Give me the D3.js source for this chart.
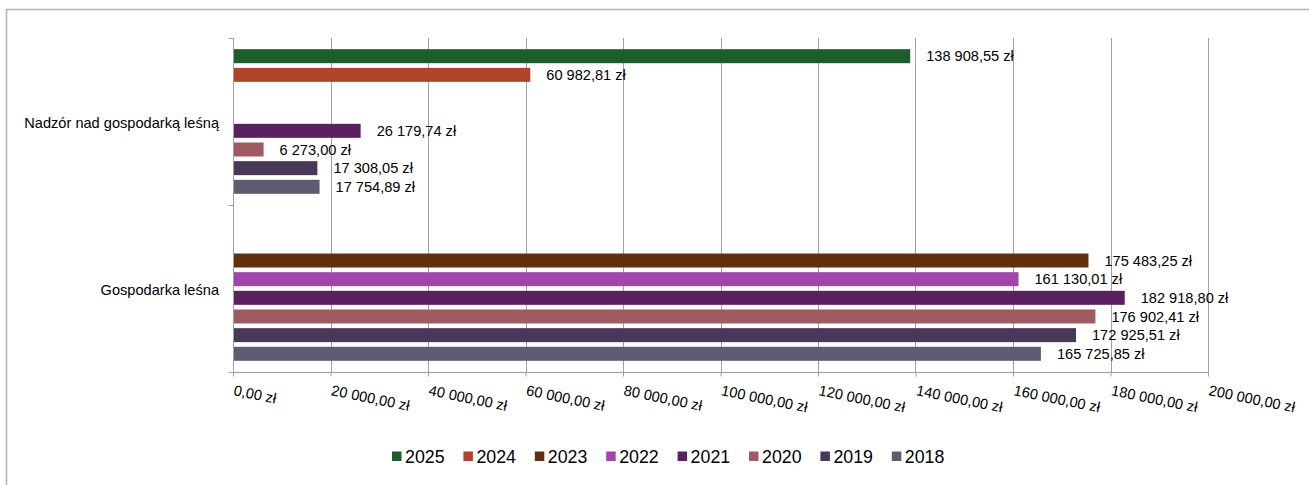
<!DOCTYPE html>
<html><head><meta charset="utf-8">
<script src="https://cdn.jsdelivr.net/npm/d3@7"></script>
<style>
html,body{margin:0;padding:0;background:#fff;}
svg{display:block;font-family:"Liberation Sans",Arial,sans-serif;}
</style></head>
<body><svg id="c" width="1309" height="485"></svg>
<script>
const categories = ["Nadzór nad gospodarką leśną", "Gospodarka leśna"];
const seriesNames = ["2025", "2024", "2023", "2022", "2021", "2020", "2019", "2018"];
const seriesColors = ["#1e5c2b", "#b0432a", "#62300c", "#9e47a8", "#5a2161", "#a05a62", "#4a3858", "#5e5c70"];
const values2025 = [138908.55, null];
const values2024 = [60982.81, null];
const values2023 = [null, 175483.25];
const values2022 = [null, 161130.01];
const values2021 = [26179.74, 182918.80];
const values2020 = [6273.00, 176902.41];
const values2019 = [17308.05, 172925.51];
const values2018 = [17754.89, 165725.85];
const xTicks = [0, 20000, 40000, 60000, 80000, 100000, 120000, 140000, 160000, 180000, 200000];

const seriesValues = [values2025, values2024, values2023, values2022, values2021, values2020, values2019, values2018];

(function () {
const svg = d3.select("#c");
const FS = 14.6;
const fmt = v => {
  const [i, d] = v.toFixed(2).split(".");
  return i.replace(/\B(?=(\d{3})+(?!\d))/g, " ") + "," + d + " zł";
};

// outer border
svg.append("rect").attr("x", 6.5).attr("y", 9.5).attr("width", 1400).attr("height", 600)
  .attr("fill", "none").attr("stroke", "#b3b3b3").attr("stroke-width", 1.5);

const pL = 233, pR = 1208, pT = 38, pB = 372;
const x = d3.scaleLinear().domain([0, 200000]).range([pL, pR]);
const y0 = d3.scaleBand().domain(categories).range([pT, pB]).padding(0);
const y1 = d3.scaleBand().domain(seriesNames).range([0, y0.bandwidth()]).paddingInner(0.25).paddingOuter(0.6);

// gridlines
svg.append("g").selectAll("line").data(xTicks.slice(1)).join("line")
  .attr("x1", d => Math.round(x(d)) + 0.5).attr("x2", d => Math.round(x(d)) + 0.5)
  .attr("y1", pT).attr("y2", pB)
  .attr("stroke", "#a0a0a0").attr("stroke-width", 1);

// bars
const data = [];
categories.forEach((c, ci) => {
  seriesNames.forEach((s, si) => {
    const v = seriesValues[si][ci];
    if (v != null) data.push({c, s, v, color: seriesColors[si]});
  });
});
const g = svg.append("g");
g.selectAll("rect").data(data).join("rect")
  .attr("x", x(0)).attr("y", d => y0(d.c) + y1(d.s))
  .attr("width", d => x(d.v) - x(0)).attr("height", y1.bandwidth())
  .attr("fill", d => d.color);

// labels
g.selectAll("text").data(data).join("text")
  .attr("x", d => x(d.v) + 16).attr("y", d => y0(d.c) + y1(d.s) + y1.bandwidth() / 2)
  .attr("dy", "0.35em").attr("font-size", FS).attr("fill", "#000")
  .text(d => fmt(d.v));

// x axis
const xAxis = svg.append("g").attr("transform", `translate(0,${pB + 0.5})`)
  .call(d3.axisBottom(x).tickValues(xTicks).tickSize(4).tickFormat(""));
xAxis.select(".domain").attr("stroke", "#a0a0a0").attr("d", `M${pL},0H${pR + 0.5}`);
xAxis.selectAll(".tick line").attr("stroke", "#a0a0a0");
svg.append("g").selectAll("text").data(xTicks).join("text")
  .attr("transform", d => `translate(${x(d)},395) rotate(11.5)`)
  .attr("font-size", FS).attr("fill", "#000")
  .text(d => fmt(d));

// y axis
const yAxis = svg.append("g").attr("transform", `translate(${pL + 0.5},0)`);
yAxis.append("line").attr("x1", 0).attr("x2", 0).attr("y1", pT).attr("y2", pB).attr("stroke", "#a0a0a0");
const yTicks = [pT, y0(categories[1]), pB];
yAxis.selectAll("line.t").data(yTicks).join("line").attr("class", "t")
  .attr("x1", -5).attr("x2", 0).attr("y1", d => Math.round(d) + 0.5).attr("y2", d => Math.round(d) + 0.5)
  .attr("stroke", "#a0a0a0");
svg.append("g").selectAll("text").data(categories).join("text")
  .attr("x", 219).attr("y", d => y0(d) + y0.bandwidth() / 2 + 1)
  .attr("dy", "0.35em").attr("text-anchor", "end").attr("font-size", FS).attr("fill", "#000")
  .text(d => d);

// legend
const lg = svg.append("g").selectAll("g").data(seriesNames).join("g")
  .attr("transform", (d, i) => `translate(${392 + i * 71.4},0)`);
lg.append("rect").attr("x", 0).attr("y", 451.5).attr("width", 9.5).attr("height", 9.5)
  .attr("fill", (d, i) => seriesColors[i]);
lg.append("text").attr("x", 13).attr("y", 456.5).attr("dy", "0.35em")
  .attr("font-size", 17.8).attr("fill", "#000").text(d => d);
})();
</script></body></html>
